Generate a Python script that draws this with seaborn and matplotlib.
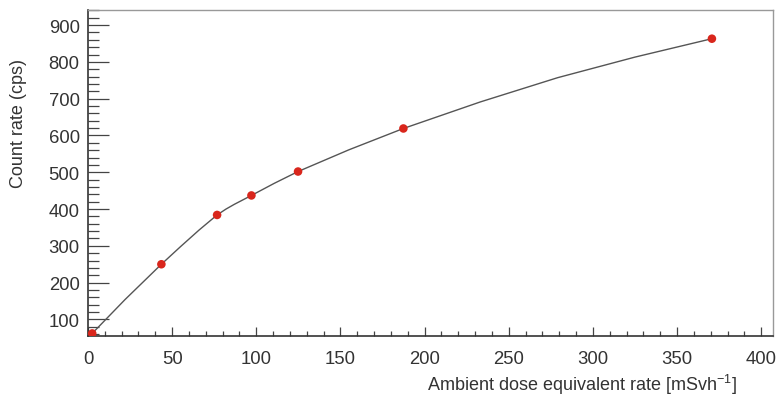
import matplotlib
matplotlib.use("Agg")
import matplotlib.pyplot as plt
from matplotlib.ticker import MultipleLocator
import seaborn as sns
import pandas as pd

# measured data points
dose_rate = [2.5, 43.6, 76.7, 97.1, 124.8, 187.4, 370.7]
count_rate = [62, 250, 384, 437, 502, 619, 863]

# fitted curve
curve_x = [2.5, 22, 43.6, 55, 66, 76.7, 82, 87, 97.1, 110.7, 124.8, 155, 187.4,
           233.0, 279.0, 325.0, 370.7]
curve_y = [62, 154, 250, 298, 343, 384, 400, 413, 437, 470, 502, 561, 619,
           691, 757, 813, 863]

x_ticks = [0, 50, 100, 150, 200, 250, 300, 350, 400]
y_ticks = [100, 200, 300, 400, 500, 600, 700, 800, 900]

x_label = "Ambient dose equivalent rate [mSvh$^{-1}$]"
y_label = "Count rate (cps)"

sns.set_theme(style="white")
plt.rcParams["font.family"] = ["Liberation Sans", "DejaVu Sans"]
plt.rcParams["mathtext.fontset"] = "custom"
plt.rcParams["mathtext.rm"] = "Liberation Sans"
plt.rcParams["mathtext.it"] = "Liberation Sans:italic"

df_pts = pd.DataFrame({"x": dose_rate, "y": count_rate})
df_fit = pd.DataFrame({"x": curve_x, "y": curve_y})

fig = plt.figure(figsize=(7.77, 4.06), dpi=100)
ax = fig.add_axes([88 / 777, (406 - 337) / 406, (773 - 88) / 777, (337 - 11) / 406])

sns.lineplot(data=df_fit, x="x", y="y", ax=ax, color="#555555", linewidth=1.0,
             estimator=None, sort=False, zorder=2)
sns.scatterplot(data=df_pts, x="x", y="y", ax=ax, color="#d9261c", s=38,
                edgecolor="none", zorder=3)

ax.set_xlim(0, 407)
ax.set_ylim(55, 941)
ax.set_xticks(x_ticks)
ax.set_yticks(y_ticks)
ax.xaxis.set_minor_locator(MultipleLocator(10))
ax.yaxis.set_minor_locator(MultipleLocator(20))

ax.tick_params(axis="x", which="major", direction="in", length=6.5, width=0.9,
               color="#444444", labelsize=13.3, labelcolor="#333333", pad=10,
               bottom=True, top=False)
ax.tick_params(axis="x", which="minor", direction="in", length=3.6, width=0.9,
               color="#444444", bottom=True, top=False)
ax.tick_params(axis="y", which="major", direction="in", length=14.9, width=0.9,
               color="#444444", labelsize=13.3, labelcolor="#333333", pad=6,
               left=True, right=False)
ax.tick_params(axis="y", which="minor", direction="in", length=7.7, width=0.9,
               color="#444444", left=True, right=False)

for side in ["left", "bottom"]:
    ax.spines[side].set_color("#333333")
    ax.spines[side].set_linewidth(1.2)
for side in ["top", "right"]:
    ax.spines[side].set_color("#999999")
    ax.spines[side].set_linewidth(1.0)

ax.set_xlabel(x_label, fontsize=13, color="#333333", ha="right", va="center")
ax.set_ylabel(y_label, fontsize=13, color="#333333", ha="center", va="center")
ax.xaxis.set_label_coords(0.947, -0.147)
ax.yaxis.set_label_coords(-0.101, 0.656)

fig.savefig("out.png", dpi=100)
